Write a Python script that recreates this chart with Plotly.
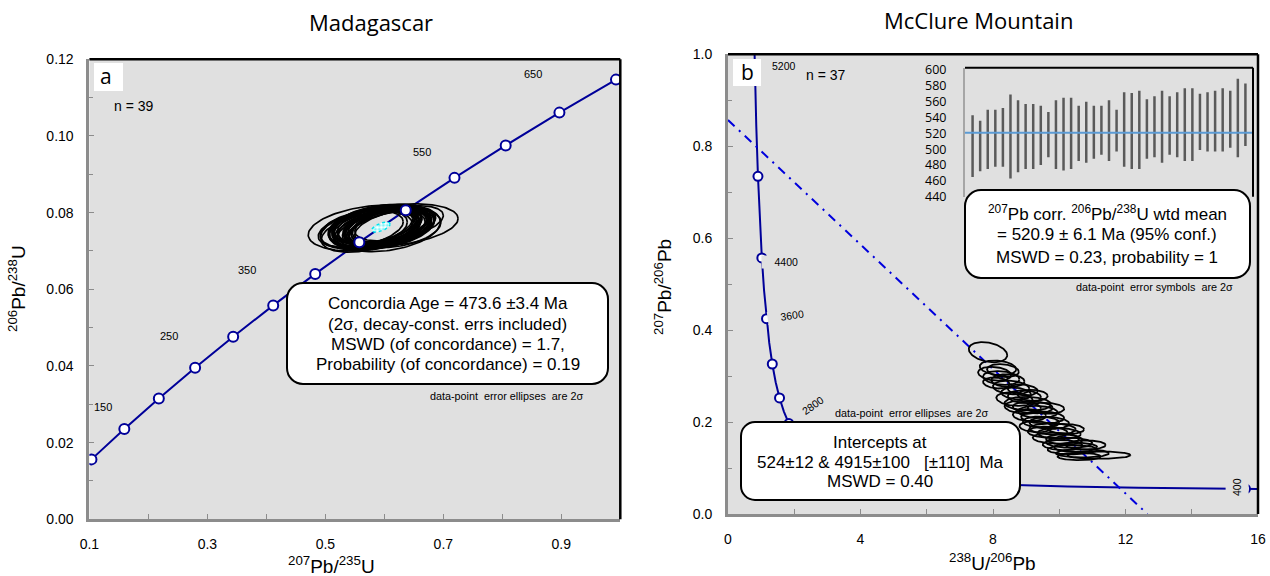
import numpy as np
import plotly.graph_objects as go

W, H = 1270, 576
ARIAL = "Liberation Sans, Arial, sans-serif"
CAL = "Open Sans, sans-serif"
NAVY = "#000099"
DISC = "#0000dd"
BG = "#e0e0e0"
AXGRAY = "#8c8c8c"

# ---------------- Panel a : Madagascar (Wetherill concordia) ----------------
conc_a_age = [100, 150, 200, 250, 300, 350, 400, 450, 500, 550, 600, 650, 700]
conc_a_x = [0.1035, 0.1592, 0.2177, 0.2792, 0.3437, 0.4116, 0.4828, 0.5576, 0.6363, 0.7189, 0.8057, 0.8968, 0.9927]
conc_a_y = [0.01563, 0.02354, 0.03151, 0.03954, 0.04764, 0.05580, 0.06402, 0.07230, 0.08065, 0.08907, 0.09754, 0.10609, 0.11470]
conc_a_lbl = ["150", "250", "350", "550", "650"]
conc_a_lbl_x = [0.1224, 0.2357, 0.3672, 0.6635, 0.8520]
conc_a_lbl_y = [0.0293, 0.0478, 0.0650, 0.0958, 0.1161]

ell_a_cx = [0.560, 0.575, 0.590, 0.605, 0.620, 0.585, 0.600, 0.612, 0.570, 0.595,
            0.625, 0.565, 0.580, 0.598, 0.608, 0.592, 0.603, 0.587, 0.615, 0.578,
            0.600, 0.590, 0.583, 0.610, 0.596, 0.572, 0.604, 0.618, 0.588, 0.599,
            0.593, 0.606, 0.581, 0.612, 0.597, 0.586, 0.602, 0.620, 0.595]
ell_a_cy = [0.0757, 0.0760, 0.0766, 0.0764, 0.0768, 0.0754, 0.0758, 0.0770, 0.0750, 0.0763,
            0.0772, 0.0758, 0.0765, 0.0768, 0.0757, 0.0760, 0.0764, 0.0758, 0.0767, 0.0762,
            0.0760, 0.0753, 0.0769, 0.0762, 0.0766, 0.0756, 0.0759, 0.0763, 0.0768, 0.0758,
            0.0761, 0.0765, 0.0759, 0.0758, 0.0764, 0.0765, 0.0761, 0.0760, 0.0762]
ell_a_ax = [0.072, 0.104, 0.068, 0.072, 0.105, 0.070, 0.080, 0.066, 0.077, 0.090,
            0.075, 0.074, 0.068, 0.078, 0.072, 0.085, 0.068, 0.074, 0.072, 0.072,
            0.095, 0.070, 0.072, 0.070, 0.066, 0.080, 0.072, 0.068, 0.076, 0.070,
            0.082, 0.068, 0.074, 0.072, 0.066, 0.072, 0.070, 0.076, 0.064]
ell_a_ay = [0.0048, 0.0060, 0.0046, 0.0049, 0.0055, 0.0048, 0.0051, 0.0046, 0.0053, 0.0058,
            0.0046, 0.0050, 0.0047, 0.0051, 0.0048, 0.0053, 0.0046, 0.0049, 0.0047, 0.0048,
            0.0062, 0.0050, 0.0047, 0.0048, 0.0046, 0.0052, 0.0048, 0.0046, 0.0050, 0.0047,
            0.0055, 0.0047, 0.0050, 0.0048, 0.0046, 0.0049, 0.0047, 0.0051, 0.0045]
ell_a_rho = [0.40, 0.30, 0.45, 0.35, 0.30, 0.40, 0.35, 0.50, 0.40, 0.30,
             0.45, 0.35, 0.40, 0.35, 0.45, 0.30, 0.40, 0.35, 0.45, 0.40,
             0.25, 0.40, 0.35, 0.45, 0.40, 0.35, 0.40, 0.45, 0.35, 0.40,
             0.30, 0.40, 0.35, 0.45, 0.40, 0.35, 0.40, 0.30, 0.45]
conc_age_ell = dict(cx=[0.5943], cy=[0.07623], ax=[0.0156], ay=[0.0013], rho=[0.6])

# ---------------- Panel b : McClure Mountain (Tera-Wasserburg) ----------------
conc_b_age = [5400, 5200, 5000, 4800, 4600, 4400, 4200, 4000, 3800, 3600, 3400, 3200, 3000, 2800,
              2400, 2000, 1600, 1200, 1000, 800, 600, 500, 400, 390]
conc_b_x = [0.7628, 0.8062, 0.8532, 0.9045, 0.9604, 1.0216, 1.0888, 1.1630, 1.2453, 1.3370, 1.4398, 1.5557,
            1.6874, 1.8382, 2.2168, 2.7491, 3.5497, 4.8876, 5.9591, 7.5678, 10.252, 12.399, 15.621, 16.034]
conc_b_y = [1.1232, 0.9738, 0.8452, 0.7346, 0.6393, 0.5571, 0.4862, 0.4250, 0.3721, 0.3263, 0.2867, 0.2525,
            0.2227, 0.1968, 0.1548, 0.1230, 0.0987, 0.0801, 0.0725, 0.0658, 0.0599, 0.05722, 0.0547, 0.05446]
conc_b_marked = [4800, 4400, 4000, 3600, 3200, 2800, 2400, 2000, 1600, 1200, 800, 400]
disc_x = [0.0, 12.66]
disc_y = [0.857, 0.0]

ell_b_cx = [7.85, 8.15, 8.05, 8.30, 8.25, 8.45, 8.55, 8.70, 8.65, 8.95, 9.05, 8.90, 9.20, 9.35, 9.10,
            9.50, 9.45, 9.70, 9.30, 9.80, 9.65, 10.00, 9.90, 10.15, 10.30, 10.10, 10.50, 10.40, 10.70,
            11.20, 10.60, 8.90, 8.10, 9.60, 10.20, 9.20, 10.80]
ell_b_cy = [0.352, 0.318, 0.305, 0.312, 0.296, 0.290, 0.275, 0.262, 0.250, 0.255, 0.240, 0.232, 0.232,
            0.222, 0.215, 0.210, 0.200, 0.198, 0.190, 0.185, 0.178, 0.175, 0.165, 0.162, 0.155, 0.150,
            0.145, 0.140, 0.132, 0.128, 0.125, 0.270, 0.285, 0.230, 0.185, 0.258, 0.150]
ell_b_ax = [0.58, 0.55, 0.50, 0.48, 0.55, 0.50, 0.55, 0.45, 0.55, 0.50, 0.70, 0.55, 0.60, 0.60, 0.50,
            0.65, 0.55, 0.60, 0.50, 0.70, 0.60, 0.65, 0.70, 0.55, 0.70, 0.60, 0.65, 0.75, 0.80, 0.95,
            0.65, 0.45, 0.40, 0.55, 0.55, 0.45, 0.60]
ell_b_ay = [0.022, 0.016, 0.015, 0.014, 0.015, 0.014, 0.015, 0.013, 0.015, 0.014, 0.015, 0.014, 0.013,
            0.013, 0.013, 0.013, 0.012, 0.013, 0.012, 0.012, 0.012, 0.012, 0.012, 0.011, 0.011, 0.011,
            0.010, 0.010, 0.009, 0.008, 0.008, 0.012, 0.012, 0.012, 0.011, 0.012, 0.010]
ell_b_rho = [-0.3, -0.2, -0.2, -0.2, -0.2, -0.1, -0.2, -0.2, -0.2, -0.1, -0.1, -0.2, -0.1, -0.1, -0.1,
             -0.1, -0.1, -0.1, -0.1, -0.1, -0.1, -0.1, -0.1, -0.1, -0.1, -0.1, 0.0, 0.0, 0.0, 0.0,
             0.0, -0.2, -0.2, -0.1, -0.1, -0.1, 0.0]

# inset: 207Pb-corrected 206Pb/238U ages (Ma), 2-sigma bars
inset_hi = [543, 536, 550, 550, 552, 569, 562, 557, 557, 555, 547, 562, 565, 565, 555, 560, 555, 555, 562,
            550, 572, 571, 574, 563, 567, 574, 567, 572, 577, 577, 570, 572, 574, 577, 574, 589, 583]
inset_lo = [465, 472, 475, 478, 478, 463, 471, 475, 475, 480, 490, 475, 473, 475, 485, 483, 488, 493, 485,
            497, 478, 475, 475, 488, 490, 483, 493, 490, 485, 485, 499, 497, 497, 497, 502, 490, 504]
wtd_mean = 520.9
inset_ticks = [440, 460, 480, 500, 520, 540, 560, 580, 600]


def ellipses(cx, cy, ax, ay, rho, n=120):
    t = np.linspace(0, 2 * np.pi, n)
    xs, ys = [], []
    for i in range(len(cx)):
        xs += list(cx[i] + ax[i] * np.cos(t)) + [None]
        ys += list(cy[i] + ay[i] * (rho[i] * np.cos(t) + np.sqrt(1 - rho[i] ** 2) * np.sin(t))) + [None]
    return xs, ys


# layout geometry (pixels)
A_X, A_Y = (89.4, 620.3), (59.3, 519.3)
B_X, B_Y = (728.0, 1258.0), (54.3, 514.0)
I_X, I_Y = (965.0, 1253.0), (67.7, 196.7)


def dx(p):
    return [p[0] / W, p[1] / W]


def dy(p):
    return [1 - p[1] / H, 1 - p[0] / H]


def px(x):
    return x / W


def py(y):
    return 1 - y / H


fig = go.Figure()

# panel a traces
fig.add_trace(go.Scatter(x=conc_a_x, y=conc_a_y, mode="lines", line=dict(color=NAVY, width=2),
                         xaxis="x", yaxis="y", hoverinfo="skip"))
ex, ey = ellipses(ell_a_cx, ell_a_cy, ell_a_ax, ell_a_ay, ell_a_rho)
fig.add_trace(go.Scatter(x=ex, y=ey, mode="lines", line=dict(color="black", width=1.7),
                         xaxis="x", yaxis="y", hoverinfo="skip"))
cx_, cy_ = ellipses(**conc_age_ell)
fig.add_trace(go.Scatter(x=cx_, y=cy_, mode="lines", fill="toself", line=dict(color="#00e5ee", width=1.5, dash="dot"),
                         fillcolor="white",
                         fillpattern=dict(shape=".", fgcolor="#00e5ee", bgcolor="white", size=4, solidity=0.5),
                         xaxis="x", yaxis="y", hoverinfo="skip"))
fig.add_trace(go.Scatter(x=conc_a_x, y=conc_a_y, mode="markers",
                         marker=dict(size=10, color="white", line=dict(color=NAVY, width=2)),
                         xaxis="x", yaxis="y", hoverinfo="skip"))

# panel b traces
fig.add_trace(go.Scatter(x=conc_b_x, y=conc_b_y, mode="lines", line=dict(color=NAVY, width=2),
                         xaxis="x2", yaxis="y2", hoverinfo="skip"))
mk = [i for i, a in enumerate(conc_b_age) if a in conc_b_marked]
fig.add_trace(go.Scatter(x=[conc_b_x[i] for i in mk], y=[conc_b_y[i] for i in mk], mode="markers",
                         marker=dict(size=9, color="white", line=dict(color=NAVY, width=2)),
                         xaxis="x2", yaxis="y2", hoverinfo="skip"))
fig.add_trace(go.Scatter(x=disc_x, y=disc_y, mode="lines",
                         line=dict(color=DISC, width=2, dash="9px,6px,2px,6px"),
                         xaxis="x2", yaxis="y2", hoverinfo="skip"))
bx, by = ellipses(ell_b_cx, ell_b_cy, ell_b_ax, ell_b_ay, ell_b_rho)
fig.add_trace(go.Scatter(x=bx, y=by, mode="lines", line=dict(color="black", width=1.8),
                         xaxis="x2", yaxis="y2", hoverinfo="skip"))

# inset traces
idx = list(range(1, len(inset_hi) + 1))
fig.add_trace(go.Bar(x=idx, y=[h - l for h, l in zip(inset_hi, inset_lo)], base=inset_lo, width=0.33,
                     marker=dict(color="#5a5a5a", line=dict(width=0)), xaxis="x3", yaxis="y3", hoverinfo="skip"))
fig.add_trace(go.Scatter(x=[0, len(inset_hi) + 1], y=[wtd_mean, wtd_mean], mode="lines",
                         line=dict(color="#5b9bd5", width=2), xaxis="x3", yaxis="y3", hoverinfo="skip"))

tickfont = dict(family=ARIAL, size=14, color="black")
common = dict(showgrid=False, zeroline=False, showline=True, linecolor=AXGRAY, linewidth=3,
              ticks="inside", ticklen=5, tickcolor=AXGRAY, tickwidth=1, tickfont=tickfont, automargin=False)

fig.update_layout(
    width=W, height=H, margin=dict(l=0, r=0, t=0, b=0, autoexpand=False),
    paper_bgcolor="white", plot_bgcolor=BG, showlegend=False,
    font=dict(family=ARIAL, color="black"),
    xaxis=dict(domain=dx(A_X), range=[0.1, 1.0], anchor="y", tick0=0.1, dtick=0.2, tickformat=".1f",
               minor=dict(tick0=0.1, dtick=0.1, ticks="inside", ticklen=5, tickcolor=AXGRAY),
               ticklabelstandoff=10, **common),
    yaxis=dict(domain=dy(A_Y), range=[0, 0.12], anchor="x", tick0=0, dtick=0.02, tickformat=".2f",
               minor=dict(tick0=0, dtick=0.01, ticks="inside", ticklen=4, tickcolor=AXGRAY),
               ticklabelstandoff=10, **common),
    xaxis2=dict(domain=dx(B_X), range=[0, 16], anchor="y2", tick0=0, dtick=4,
                minor=dict(tick0=0, dtick=2, ticks="inside", ticklen=5, tickcolor=AXGRAY),
                ticklabelstandoff=10, **common),
    yaxis2=dict(domain=dy(B_Y), range=[0, 1.0], anchor="x2", tick0=0, dtick=0.2, tickformat=".1f",
                minor=dict(tick0=0, dtick=0.1, ticks="inside", ticklen=4, tickcolor=AXGRAY),
                ticklabelstandoff=10, **common),
    xaxis3=dict(domain=dx(I_X), range=[0, len(inset_hi) + 1], anchor="y3", showgrid=False, zeroline=False,
                showline=False, showticklabels=False, ticks="", automargin=False),
    yaxis3=dict(domain=dy(I_Y), range=[440, 603], anchor="x3", showgrid=False, zeroline=False,
                showline=True, linecolor="#a6a6a6", linewidth=2, ticks="", tickvals=inset_ticks,
                tickfont=dict(family=CAL, size=12.5, color="black"), ticklabelstandoff=14, automargin=False),
)

shapes = []
# black top/right frame lines
for xr, yr, w in [("x", "y", 2.5), ("x2", "y2", 2.5), ("x3", "y3", 2)]:
    shapes.append(dict(type="line", xref=xr + " domain", yref=yr + " domain", x0=0, x1=1, y0=1, y1=1,
                       line=dict(color="black", width=w)))
    shapes.append(dict(type="line", xref=xr + " domain", yref=yr + " domain", x0=1, x1=1, y0=0, y1=1,
                       line=dict(color="black", width=w)))


def rounded_box(x0, y0, x1, y1, r):
    L, R, T, B = px(x0), px(x1), py(y0), py(y1)
    rx, ry = r / W, r / H
    k = 0.552

    def corner(s, c, e):
        c1 = (s[0] + k * (c[0] - s[0]), s[1] + k * (c[1] - s[1]))
        c2 = (e[0] + k * (c[0] - e[0]), e[1] + k * (c[1] - e[1]))
        return f" C {c1[0]},{c1[1]} {c2[0]},{c2[1]} {e[0]},{e[1]}"

    p = f"M {L + rx},{T} L {R - rx},{T}"
    p += corner((R - rx, T), (R, T), (R, T - ry))
    p += f" L {R},{B + ry}"
    p += corner((R, B + ry), (R, B), (R - rx, B))
    p += f" L {L + rx},{B}"
    p += corner((L + rx, B), (L, B), (L, B + ry))
    p += f" L {L},{T - ry}"
    p += corner((L, T - ry), (L, T), (L + rx, T))
    p += " Z"
    return dict(type="path", path=p, xref="paper", yref="paper", fillcolor="white",
                line=dict(color="black", width=2))


shapes.append(rounded_box(287, 283, 608, 384, 16))
shapes.append(rounded_box(965, 190, 1250, 278, 16))
shapes.append(rounded_box(741, 422, 1020, 500, 14))
# white label boxes a / b
shapes.append(dict(type="rect", xref="paper", yref="paper", x0=px(94), x1=px(123), y0=py(91), y1=py(63),
                   fillcolor="white", line=dict(width=0)))
shapes.append(dict(type="rect", xref="paper", yref="paper", x0=px(733), x1=px(761), y0=py(86), y1=py(59),
                   fillcolor="white", line=dict(width=0)))
fig.update_layout(shapes=shapes)

ann = []


def T(x, y, text, size=17, family=ARIAL, **kw):
    d = dict(x=px(x), y=py(y), xref="paper", yref="paper", text=text, showarrow=False,
             font=dict(family=family, size=size, color="black"), xanchor="center", yanchor="middle")
    d.update(kw)
    ann.append(d)


NB = "\u00a0"
# titles
T(371, 22, "Madagascar", size=22, family=CAL)
T(978.5, 20, "McClure Mountain", size=22, family=CAL)
# axis titles
T(331, 565, "<sup>207</sup>Pb/<sup>235</sup>U", size=19)
T(17, 289, "<sup>206</sup>Pb/<sup>238</sup>U", size=19, textangle=-90)
T(992, 562, "<sup>238</sup>U/<sup>206</sup>Pb", size=19)
T(663, 287, "<sup>207</sup>Pb/<sup>206</sup>Pb", size=19, textangle=-90)
# panel letters
T(106, 76, "a", size=21, family=CAL)
T(747, 72, "b", size=21, family=CAL)
T(134, 106, "n = 39", size=14)
T(826, 75, "n = 37", size=14)
# left box
for yy, line in zip([303.5, 324, 344, 364.5],
                    ["Concordia Age = 473.6 ±3.4 Ma", "(2σ, decay-const. errs included)",
                     "MSWD (of concordance) = 1.7,", "Probability (of concordance) = 0.19"]):
    T(447.5, yy, line, size=17)
T(506, 396, f"data-point{NB}{NB}error ellipses{NB}{NB}are 2σ", size=10.8)
# inset box
for yy, line in zip([213, 234, 257],
                    [f"<sup>207</sup>Pb{NB}corr. <sup>206</sup>Pb/<sup>238</sup>U{NB}wtd mean",
                     "= 520.9 ± 6.1 Ma (95% conf.)", "MSWD = 0.23, probability = 1"]):
    T(1107, yy, line, size=17)
T(1154, 287, f"data-point{NB}{NB}error symbols{NB}{NB}are 2σ", size=10.8)
T(911, 413, f"data-point{NB}{NB}error ellipses{NB}{NB}are 2σ", size=10.8)
# intercepts box
for yy, line in zip([442, 462, 481],
                    ["Intercepts at", f"524±12 & 4915±100{NB}{NB}{NB}[±110]{NB}{NB}Ma", "MSWD = 0.40"]):
    T(880, yy, line, size=17)

# concordia age labels
for t, x, y in zip(conc_a_lbl, conc_a_lbl_x, conc_a_lbl_y):
    ann.append(dict(x=x, y=y, xref="x", yref="y", text=t, showarrow=False,
                    font=dict(family=ARIAL, size=11, color="black")))
ann.append(dict(x=1.69, y=0.974, xref="x2", yref="y2", text="5200", showarrow=False,
                font=dict(family=ARIAL, size=10.5, color="black")))
ann.append(dict(x=1.0, y=0.548, xref="x2", yref="y2", text="4400", showarrow=False, xanchor="left",
                width=36, align="right", bgcolor=BG, borderpad=0,
                font=dict(family=ARIAL, size=10.5, color="black")))
ann.append(dict(x=1.15, y=0.430, xref="x2", yref="y2", text="3600", showarrow=False, xanchor="left",
                width=36, align="right", bgcolor=BG, borderpad=0, textangle=-8,
                font=dict(family=ARIAL, size=10.5, color="black")))
ann.append(dict(x=2.57, y=0.237, xref="x2", yref="y2", text="2800", showarrow=False, textangle=-35,
                font=dict(family=ARIAL, size=10.5, color="black")))
ann.append(dict(x=15.37, y=0.0587, xref="x2", yref="y2", text="400", showarrow=False, textangle=-90,
                height=22, width=24, bgcolor=BG, borderpad=0,
                font=dict(family=ARIAL, size=10.5, color="black")))
fig.update_layout(annotations=ann)

fig.write_html("out.html", config=dict(displayModeBar=False),
               post_script="document.body.style.margin='0';document.body.style.overflow='hidden';")
